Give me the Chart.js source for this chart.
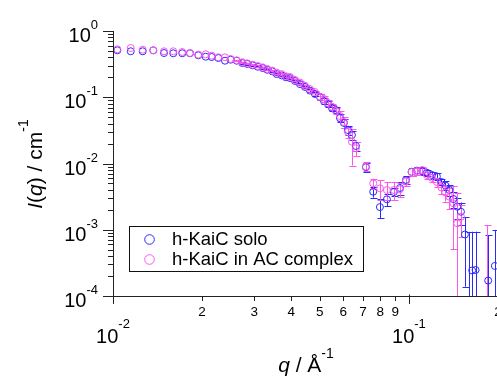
<!DOCTYPE html>
<html>
<head>
<meta charset="utf-8">
<script src="https://cdn.jsdelivr.net/npm/chart.js@4.4.0/dist/chart.umd.min.js"></script>
<style>
  html, body { margin: 0; padding: 0; background: #fff; overflow: hidden; }
  #saxs { display: block; }
</style>
</head>
<body>
<canvas id="saxs" width="510" height="376"></canvas>
<script>
// q values (1/A) and I(q) (1/cm), with +/- errors
const qSolo = [0.01034, 0.01148, 0.0126, 0.01368, 0.01487, 0.01598, 0.01714, 0.0182, 0.01942, 0.02057,
  0.02155, 0.02269, 0.0239, 0.02498, 0.02617, 0.02734, 0.02842, 0.02965, 0.03083, 0.03205,
  0.03322, 0.03454, 0.03573, 0.03715, 0.03842, 0.03963, 0.0412, 0.04283, 0.04453, 0.0463,
  0.04813, 0.05004, 0.05162, 0.05325, 0.05494, 0.05667, 0.05847, 0.06031, 0.06222, 0.06419,
  0.06622, 0.07156, 0.07574, 0.0798, 0.08427, 0.08897, 0.09324, 0.0977, 0.1021, 0.1064,
  0.111, 0.115, 0.1196, 0.1243, 0.1288, 0.1328, 0.137, 0.1414, 0.1456, 0.1499,
  0.1546, 0.1598, 0.1636, 0.168, 0.1853, 0.1952];
const iSolo = [0.511, 0.494, 0.494, 0.511, 0.465, 0.461, 0.461, 0.461, 0.430, 0.409,
  0.405, 0.391, 0.356, 0.369, 0.356, 0.329, 0.318, 0.303, 0.289, 0.276,
  0.260, 0.246, 0.224, 0.214, 0.200, 0.195, 0.176, 0.158, 0.143, 0.126,
  0.112, 0.101, 0.0878, 0.0791, 0.0688, 0.0642, 0.0486, 0.0409, 0.0320, 0.0269,
  0.0184, 0.0088, 0.00375, 0.00220, 0.00288, 0.00371, 0.00427, 0.00564, 0.0075, 0.0078,
  0.0077, 0.00726, 0.0067, 0.00637, 0.00526, 0.00466, 0.00398, 0.00291, 0.00223, 0.00187,
  0.000848, 0.00005, 0.000243, 0.000247, 0.000171, 0.000284];
const errSolo = [0, 0, 0, 0, 0, 0, 0, 0, 0, 0,
  0, 0, 0, 0, 0.006, 0.006, 0.006, 0.006, 0.006, 0.006,
  0.006, 0.006, 0.006, 0.006, 0.006, 0.007, 0.007, 0.007, 0.006, 0.006,
  0.006, 0.010, 0.009, 0.008, 0.007, 0.007, 0.007, 0.006, 0.005, 0.004,
  0.003, 0.0014, 0.0007, 0.0007, 0.0006, 0.0005, 0.0009, 0.0008, 0.001, 0.001,
  0.001, 0.0008, 0.0008, 0.0008, 0.0006, 0.0007, 0.0008, 0.0008, 0.0008, 0.0007,
  0.00071, 0.00088, 0.00069, 0.00069, 0.00066, 0.00071];

const qAC = [0.01034, 0.01148, 0.0126, 0.01368, 0.01487, 0.01598, 0.01714, 0.0182, 0.01942, 0.02057,
  0.02155, 0.02269, 0.0239, 0.02498, 0.02617, 0.02734, 0.02842, 0.02965, 0.03083, 0.03205,
  0.03322, 0.03454, 0.03573, 0.03715, 0.03842, 0.03963, 0.0412, 0.04283, 0.04453, 0.0463,
  0.04813, 0.05004, 0.05162, 0.05325, 0.05494, 0.05667, 0.05847, 0.06031, 0.06222, 0.06419,
  0.06622, 0.07156, 0.07574, 0.0798, 0.08427, 0.08897, 0.09324, 0.0977, 0.1021, 0.1064,
  0.111, 0.115, 0.1196, 0.1243, 0.1288, 0.1328, 0.137, 0.1414, 0.1456, 0.1499,
  0.183];
const iAC = [0.529, 0.554, 0.522, 0.511, 0.494, 0.494, 0.482, 0.465, 0.439, 0.445,
  0.424, 0.401, 0.401, 0.378, 0.361, 0.337, 0.325, 0.310, 0.296, 0.283,
  0.267, 0.252, 0.235, 0.224, 0.207, 0.202, 0.182, 0.167, 0.149, 0.133,
  0.120, 0.102, 0.0941, 0.0819, 0.0720, 0.0620, 0.0521, 0.0423, 0.0299, 0.0213,
  0.0170, 0.0090, 0.00502, 0.00422, 0.00398, 0.00398, 0.00408, 0.00535, 0.00744, 0.0077,
  0.00798, 0.00671, 0.0061, 0.00526, 0.00434, 0.00365, 0.00315, 0.00251, 0.00125, 0.00157,
  0.00005];
const errAC = [0, 0, 0, 0, 0, 0, 0, 0, 0, 0,
  0, 0, 0, 0, 0.007, 0.007, 0.007, 0.007, 0.007, 0.007,
  0.007, 0.007, 0.007, 0.007, 0.007, 0.008, 0.007, 0.007, 0.006, 0.006,
  0.006, 0.010, 0.010, 0.009, 0.008, 0.007, 0.009, 0.008, 0.006, 0.012,
  0.004, 0.0014, 0.0009, 0.0014, 0.0012, 0.0012, 0.001, 0.0008, 0.001, 0.001,
  0.001, 0.0008, 0.0008, 0.0008, 0.0009, 0.001, 0.0011, 0.002, 0.00234, 0.0008,
  0.00113];

const seriesNames = ['h-KaiC solo', 'h-KaiC in AC complex'];
const seriesColors = ['#2a2aff', '#ff55e8'];

// axis decorations
const xExponents = [-2, -1];
const yExponents = [0, -1, -2, -3, -4];
const minorDigits = [2, 3, 4, 5, 6, 7, 8, 9];
const xRange = [0.01, 0.2];
const yRange = [1e-4, 1];

const FONT = '"Liberation Sans", Arial, sans-serif';

function toPoints(q, v) {
  return q.map((x, i) => ({ x: x, y: v[i] }));
}

function drawErrors(chart, q, v, err, color) {
  const xs = chart.scales.x, ys = chart.scales.y, ctx = chart.ctx, a = chart.chartArea;
  ctx.save();
  ctx.beginPath();
  ctx.rect(a.left - 4, a.top - 4, a.right - a.left + 8, a.bottom - a.top + 4);
  ctx.clip();
  ctx.strokeStyle = color;
  ctx.lineWidth = 1;
  for (let i = 0; i < q.length; i++) {
    if (!err[i]) continue;
    const px = Math.round(xs.getPixelForValue(q[i])) + 0.5;
    const hi = ys.getPixelForValue(v[i] + err[i]);
    const lowVal = v[i] - err[i];
    const lo = lowVal > 0 ? ys.getPixelForValue(lowVal) : a.bottom + 10;
    ctx.beginPath();
    ctx.moveTo(px, hi); ctx.lineTo(px, lo);
    ctx.moveTo(px - 3, Math.round(hi) + 0.5); ctx.lineTo(px + 4, Math.round(hi) + 0.5);
    if (lowVal > 0) {
      ctx.moveTo(px - 3, Math.round(lo) + 0.5); ctx.lineTo(px + 4, Math.round(lo) + 0.5);
    }
    ctx.stroke();
  }
  ctx.restore();
}

function powLabel(ctx, exp, x, baseY, supY, align, bigPx, supPx) {
  ctx.font = bigPx + 'px ' + FONT;
  const wb = ctx.measureText('10').width;
  ctx.font = supPx + 'px ' + FONT;
  const ws = ctx.measureText(String(exp)).width;
  const left = align === 'right' ? x - wb - ws : x - (wb + ws) / 2;
  ctx.textAlign = 'left';
  ctx.textBaseline = 'alphabetic';
  ctx.font = bigPx + 'px ' + FONT;
  ctx.fillText('10', left, baseY);
  ctx.font = supPx + 'px ' + FONT;
  ctx.fillText(String(exp), left + wb, supY);
}

// draws a list of text pieces one after another along the baseline
function drawRuns(ctx, runs, x, y) {
  let cx = x;
  ctx.textAlign = 'left';
  ctx.textBaseline = 'alphabetic';
  runs.forEach(r => {
    ctx.font = r.font;
    ctx.fillText(r.t, cx, y + (r.dy || 0));
    cx += ctx.measureText(r.t).width;
  });
  return cx - x;
}
function runsWidth(ctx, runs) {
  let w = 0;
  runs.forEach(r => { ctx.font = r.font; w += ctx.measureText(r.t).width; });
  return w;
}

const igorPlugin = {
  id: 'igorAxes',
  beforeDatasetsDraw(chart) {
    drawErrors(chart, qSolo, iSolo, errSolo, seriesColors[0]);
    drawErrors(chart, qAC, iAC, errAC, seriesColors[1]);
  },
  afterDraw(chart) {
    const ctx = chart.ctx, xs = chart.scales.x, ys = chart.scales.y, a = chart.chartArea;
    const L = Math.round(a.left) + 0.5, B = Math.round(a.bottom) + 0.5;
    ctx.save();
    ctx.strokeStyle = '#222';
    ctx.fillStyle = '#000';
    ctx.lineWidth = 1;

    // axis lines
    ctx.beginPath();
    ctx.moveTo(L, a.top); ctx.lineTo(L, B);
    ctx.moveTo(a.left - 10, B); ctx.lineTo(a.right + 20, B);
    ctx.stroke();

    // y ticks and labels
    ctx.beginPath();
    yExponents.forEach(e => {
      const v = Math.pow(10, e);
      const py = Math.round(ys.getPixelForValue(v)) + 0.5;
      ctx.moveTo(a.left - 10, py); ctx.lineTo(L, py);
      if (v < yRange[1]) {
        minorDigits.forEach(m => {
          const mv = m * v;
          if (mv > yRange[1]) return;
          const my = Math.round(ys.getPixelForValue(mv)) + 0.5;
          ctx.moveTo(a.left - 5, my); ctx.lineTo(L, my);
        });
      }
    });
    // x ticks
    xExponents.forEach(e => {
      const v = Math.pow(10, e);
      const px = Math.round(xs.getPixelForValue(v)) + 0.5;
      ctx.moveTo(px, a.bottom - 1.5); ctx.lineTo(px, a.bottom + 8);
      minorDigits.forEach(m => {
        const mv = m * v;
        if (mv > xRange[1] + 1e-9) return;
        const mx = Math.round(xs.getPixelForValue(mv)) + 0.5;
        ctx.moveTo(mx, a.bottom); ctx.lineTo(mx, a.bottom + 5);
      });
    });
    ctx.stroke();

    yExponents.forEach(e => {
      const py = ys.getPixelForValue(Math.pow(10, e));
      powLabel(ctx, e, a.left - 15, py + 11, py - 2, 'right', 20, 13);
    });
    xExponents.forEach(e => {
      const v = Math.pow(10, e);
      const px = xs.getPixelForValue(v);
      powLabel(ctx, e, px, a.bottom + 47, a.bottom + 32, 'center', 20, 13);
      ctx.font = '13.5px ' + FONT;
      ctx.textAlign = 'center';
      ctx.textBaseline = 'alphabetic';
      minorDigits.forEach(m => {
        const mv = m * v;
        if (mv > xRange[1] + 1e-9) return;
        ctx.fillText(String(m), xs.getPixelForValue(mv), a.bottom + 20);
      });
    });

    // x title
    const xRuns = [
      { t: 'q', font: 'italic 21px ' + FONT },
      { t: ' / Å', font: '21px ' + FONT },
      { t: '-1', font: '14px ' + FONT, dy: -14 }
    ];
    const xw = runsWidth(ctx, xRuns);
    drawRuns(ctx, xRuns, 306 - xw / 2, 372);

    // y title (rotated)
    const yRuns = [
      { t: 'I', font: 'italic 21px ' + FONT },
      { t: '(', font: '21px ' + FONT },
      { t: 'q', font: 'italic 21px ' + FONT },
      { t: ') / cm', font: '21px ' + FONT },
      { t: '-1', font: '14px ' + FONT, dy: -14 }
    ];
    const yw = runsWidth(ctx, yRuns);
    ctx.save();
    ctx.translate(42, 164);
    ctx.rotate(-Math.PI / 2);
    drawRuns(ctx, yRuns, -yw / 2, 0);
    ctx.restore();

    // legend box
    const bx = 129.5, by = 226.5, bw = 234, bh = 45;
    ctx.fillStyle = '#fff';
    ctx.fillRect(bx, by, bw, bh);
    ctx.strokeStyle = '#111';
    ctx.strokeRect(bx, by, bw, bh);
    seriesNames.forEach((name, i) => {
      const cy = 239.5 + i * 20;
      ctx.beginPath();
      ctx.strokeStyle = seriesColors[i];
      ctx.arc(149.5, cy, 4.8, 0, Math.PI * 2);
      ctx.stroke();
      ctx.fillStyle = '#000';
      ctx.font = '18.5px ' + FONT;
      ctx.textAlign = 'left';
      ctx.textBaseline = 'alphabetic';
      ctx.fillText(name, 172, cy + 5.5);
    });
    ctx.restore();
  }
};

const chart = new Chart(document.getElementById('saxs').getContext('2d'), {
  type: 'scatter',
  data: {
    datasets: [
      {
        label: seriesNames[0],
        data: toPoints(qSolo, iSolo),
        borderColor: seriesColors[0],
        backgroundColor: 'rgba(0,0,0,0)',
        pointRadius: 3.5,
        pointHoverRadius: 3.5,
        pointBorderWidth: 1,
        order: 2
      },
      {
        label: seriesNames[1],
        data: toPoints(qAC, iAC),
        borderColor: seriesColors[1],
        backgroundColor: 'rgba(0,0,0,0)',
        pointRadius: 3.5,
        pointHoverRadius: 3.5,
        pointBorderWidth: 1,
        order: 1
      }
    ]
  },
  options: {
    responsive: false,
    animation: false,
    events: [],
    layout: { padding: { top: 31, right: 12, left: 0, bottom: 0 } },
    plugins: { legend: { display: false }, tooltip: { enabled: false } },
    scales: {
      x: {
        type: 'logarithmic', min: xRange[0], max: xRange[1],
        grid: { display: false }, border: { display: false }, ticks: { display: false },
        afterFit(s) { s.height = 80; }
      },
      y: {
        type: 'logarithmic', min: yRange[0], max: yRange[1],
        grid: { display: false }, border: { display: false }, ticks: { display: false },
        afterFit(s) { s.width = 113; }
      }
    }
  },
  plugins: [igorPlugin]
});
</script>
</body>
</html>
